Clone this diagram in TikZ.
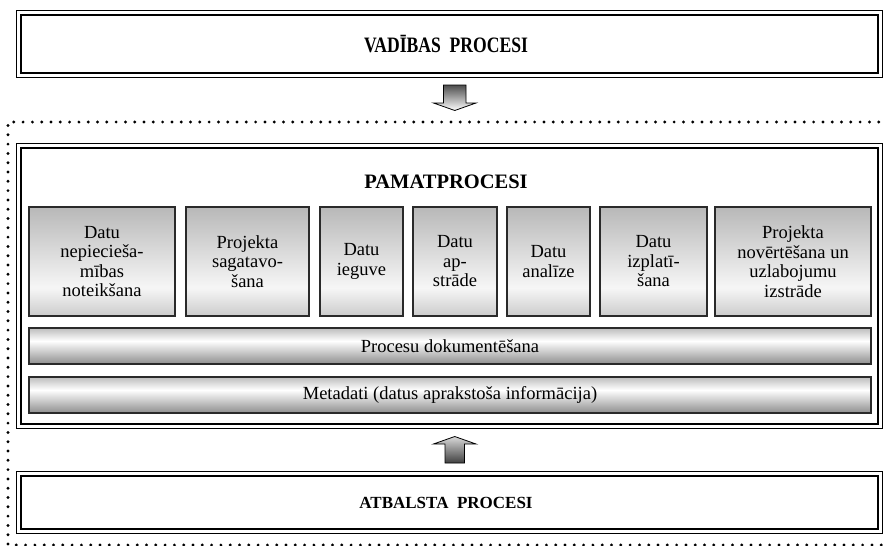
\documentclass[tikz,border=0pt]{standalone}
\usepackage{fontspec}
\usepackage{graphicx}
\setmainfont{Liberation Serif}
\usetikzlibrary{calc}
\definecolor{edge}{HTML}{2A2A2A}
\definecolor{bxTop}{HTML}{B8B8B8}
\definecolor{bxMid}{HTML}{F6F6F6}
\definecolor{bxBot}{HTML}{CCCCCC}
\definecolor{brTop}{HTML}{BDBDBD}
\definecolor{brMid}{HTML}{FFFFFF}
\definecolor{brBot}{HTML}{8E8E8E}
\pgfdeclareverticalshading{boxshade}{100bp}{color(0bp)=(bxBot); color(25bp)=(bxBot); color(38bp)=(bxMid); color(75bp)=(bxTop); color(100bp)=(bxTop)}
\pgfdeclareverticalshading{barshade}{100bp}{color(0bp)=(brBot); color(25bp)=(brBot); color(57bp)=(brMid); color(75bp)=(brTop); color(100bp)=(brTop)}
\tikzset{
  framebox/.style={draw=black, line width=2.2pt, inner sep=0pt, outer sep=0pt, fill=white},
  outerline/.style={draw=black, line width=0.9pt},
  procbox/.style={draw=edge, line width=1.1pt, shading=boxshade, inner sep=2pt, outer sep=0pt,
    align=center, font=\fontsize{18.5}{19.5}\selectfont, minimum height=109pt},
  barbox/.style={draw=edge, line width=1.1pt, shading=barshade, inner sep=0pt, outer sep=0pt,
    minimum width=842pt, minimum height=36pt, font=\fontsize{18.5}{19.5}\selectfont},
  titletext/.style={font=\fontsize{17}{20}\selectfont\bfseries, inner sep=0pt},
  dotline/.style={line width=3.2pt, line cap=round, dash pattern=on 0pt off 9.3pt},
  blockarrow/.style={draw=black, line width=0.8pt, line join=miter}
}
\begin{document}
\begin{tikzpicture}[x=1pt,y=-1pt]
\useasboundingbox (0,0) rectangle (886,546);
% dotted frame
\coordinate (dTR) at (888,122);
\coordinate (dTL) at (8,122);
\coordinate (dBL) at (8,545);
\coordinate (dBR) at (888,545);
\draw[dotline] (dTR) -- (dTL) -- (dBL) -- (dBR);

% top box
\node[framebox, minimum width=857pt, minimum height=58pt] (top) at (449.5,44) {};
\draw[outerline] ($(top.north west)+(-4.5,-4.5)$) rectangle ($(top.south east)+(4.5,4.5)$);
\node[titletext] (toptxt) at (446,44) {\scalebox{0.8}[1]{\fontsize{22}{24}\selectfont\bfseries VADĪBAS\ \ PROCESI}};

% main box
\node[framebox, minimum width=857pt, minimum height=276pt] (main) at (449.5,286) {};
\draw[outerline] ($(main.north west)+(-4.5,-4.5)$) rectangle ($(main.south east)+(4.5,4.5)$);
\node[titletext, font=\fontsize{20.5}{22}\selectfont\bfseries] (maintxt) at (446,182) {PAMATPROCESI};

% bottom box
\node[framebox, minimum width=857pt, minimum height=53pt] (bot) at (449.5,502.5) {};
\draw[outerline] ($(bot.north west)+(-4.5,-4.5)$) rectangle ($(bot.south east)+(4.5,4.5)$);
\node[titletext] (bottxt) at (446,502.5) {ATBALSTA\ \ PROCESI};

% process boxes
\node[procbox, minimum width=146pt] (p1) at (102,261.5) {Datu\\nepiecieša-\\mības\\noteikšana};
\node[procbox, minimum width=123pt] (p2) at (247.5,261.5) {Projekta\\sagatavo-\\šana};
\node[procbox, minimum width=83pt] (p3) at (361.5,261.5) {Datu\\ieguve};
\node[procbox, minimum width=84pt] (p4) at (455,261.5) {Datu\\ap-\\strāde};
\node[procbox, minimum width=83pt] (p5) at (548.5,261.5) {Datu\\analīze};
\node[procbox, minimum width=107pt] (p6) at (653.5,261.5) {Datu\\izplatī-\\šana};
\node[procbox, minimum width=156pt] (p7) at (793,261.5) {Projekta\\novērtēšana un\\uzlabojumu\\izstrāde};

% bars
\node[barbox] (b1) at (450,346) {Procesu dokumentēšana};
\node[barbox] (b2) at (450,395) {Metadati (datus aprakstoša informācija)};

% down arrow
\shade[blockarrow, shading angle=200, top color=black!70, bottom color=white]
  (443.5,85) -- (466,85) -- (466,103) -- (476,103) -- (454.75,110.5) -- (433.5,103) -- (443.5,103) -- cycle;
% up arrow
\shade[blockarrow, top color=white!85!black, bottom color=black!75]
  (445,463) -- (464.5,463) -- (464.5,444) -- (476,444) -- (454.75,436.5) -- (433.5,444) -- (445,444) -- cycle;
\end{tikzpicture}
\end{document}
